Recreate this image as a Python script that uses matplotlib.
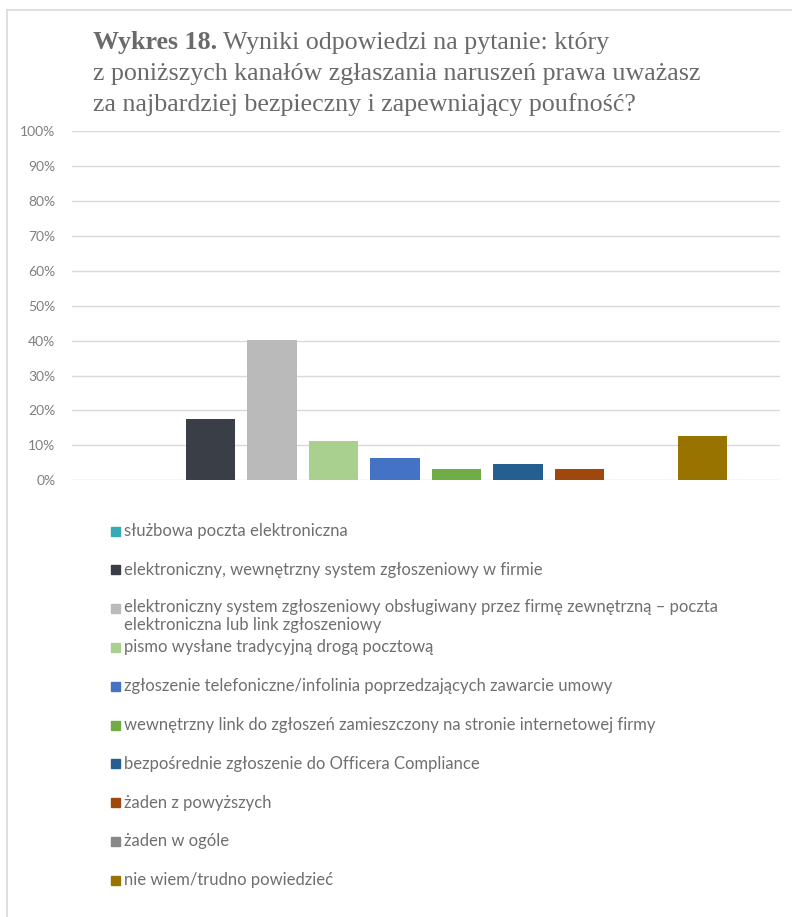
import matplotlib
matplotlib.use("Agg")
import matplotlib.pyplot as plt
from matplotlib.patches import Rectangle
from matplotlib.lines import Line2D
from matplotlib.ticker import FuncFormatter, MultipleLocator

# Answer categories (legend order) and their shares in percent
categories = [
    "służbowa poczta elektroniczna",
    "elektroniczny, wewnętrzny system zgłoszeniowy w firmie",
    "elektroniczny system zgłoszeniowy obsługiwany przez firmę zewnętrzną – poczta\nelektroniczna lub link zgłoszeniowy",
    "pismo wysłane tradycyjną drogą pocztową",
    "zgłoszenie telefoniczne/infolinia poprzedzających zawarcie umowy",
    "wewnętrzny link do zgłoszeń zamieszczony na stronie internetowej firmy",
    "bezpośrednie zgłoszenie do Officera Compliance",
    "żaden z powyższych",
    "żaden w ogóle",
    "nie wiem/trudno powiedzieć",
]
values = [0.0, 17.6, 40.3, 11.3, 6.4, 3.2, 4.7, 3.2, 0.0, 12.7]
colors = ["#38a9b6", "#3a3e47", "#bababa", "#a9d08e", "#4472c4",
          "#70ad47", "#255e91", "#9e480e", "#888888", "#997300"]

title_bold = "Wykres 18."
title_lines = [" Wyniki odpowiedzi na pytanie: który",
               "z poniższych kanałów zgłaszania naruszeń prawa uważasz",
               "za najbardziej bezpieczny i zapewniający poufność?"]

W, H = 792, 917
fig = plt.figure(figsize=(W / 100, H / 100), dpi=100)
fig.patch.set_facecolor("white")


def fx(px):
    return px / W


def fy(py):
    return 1 - py / H


# outer frame (top and left edges)
fig.add_artist(Line2D([fx(6.5), 1], [fy(10), fy(10)], color="#d9d9d9", lw=1.2,
                      transform=fig.transFigure))
fig.add_artist(Line2D([fx(6.5), fx(6.5)], [fy(10), 0], color="#d9d9d9", lw=1.2,
                      transform=fig.transFigure))

# plot area
ax_left, ax_right, ax_top, ax_bottom = 72, 780, 131, 480.3
ax = fig.add_axes([fx(ax_left), fy(ax_bottom), (ax_right - ax_left) / W,
                   (ax_bottom - ax_top) / H])
x = list(range(len(values)))
ax.bar(x, values, width=0.8, color=colors, zorder=3)
ax.set_ylim(0, 100)
ax.set_xlim(-1.25, 10.26)
ax.yaxis.set_major_locator(MultipleLocator(10))
ax.yaxis.set_major_formatter(FuncFormatter(lambda v, p: f"{v:.0f}%"))
ax.grid(axis="y", color="#d9d9d9", lw=1.0, zorder=0)
ax.set_xticks([])
for s in ax.spines.values():
    s.set_visible(False)
ax.tick_params(axis="y", length=0, pad=12, labelcolor="#7f7f7f", labelsize=10)
for lab in ax.get_yticklabels():
    lab.set_fontfamily("Lato")

# title
tcolor = "#6a6a6a"
tsize = 18.7
tx = fx(93)
baselines = [48.5, 80, 111.5]
t0 = fig.text(tx, fy(baselines[0]), title_bold, fontsize=tsize, fontweight="bold",
              family="Liberation Serif", color=tcolor, va="baseline", ha="left")
fig.canvas.draw()
bb = t0.get_window_extent()
fig.text(bb.x1 / W, fy(baselines[0]), title_lines[0], fontsize=tsize,
         family="Liberation Serif", color=tcolor, va="baseline", ha="left")
for line, b in zip(title_lines[1:], baselines[1:]):
    fig.text(tx, fy(b), line, fontsize=tsize, family="Liberation Serif",
             color=tcolor, va="baseline", ha="left")

# legend, one entry per row
leg_y0 = 531
leg_step = 38.8
for i, (lab, c) in enumerate(zip(categories, colors)):
    yc = leg_y0 + i * leg_step
    fig.add_artist(Rectangle((fx(111), fy(yc + 4.5)), 9 / W, 9 / H, color=c,
                             transform=fig.transFigure))
    wrapped = "\n" in lab
    ty = fy(yc - 10) if wrapped else fy(yc)
    fig.text(fx(124), ty, lab, fontsize=12, family="Lato", color="#6f6f6f",
             va="top" if wrapped else "center", ha="left", linespacing=1.2)

fig.savefig("out.png", dpi=100, facecolor="white")
